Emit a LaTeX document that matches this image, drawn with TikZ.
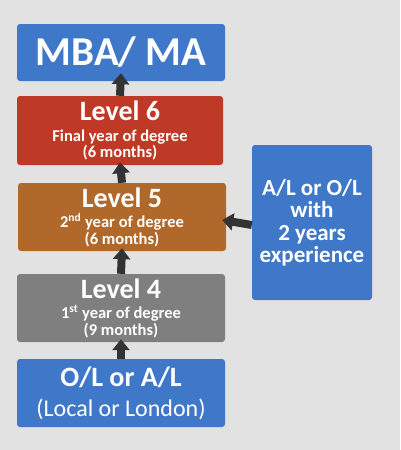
\documentclass[tikz,border=0pt]{standalone}
\usepackage{fontspec}
\setmainfont{Carlito}
\usetikzlibrary{arrows.meta}
\definecolor{bg}{HTML}{E2E2E2}
\definecolor{cblue}{HTML}{3F78C8}
\definecolor{cred}{HTML}{BF3A26}
\definecolor{corange}{HTML}{B0692A}
\definecolor{cgray}{HTML}{7F7F7F}
\definecolor{carrow}{HTML}{333333}
\tikzset{
  box/.style={rounded corners=3pt, text=white, align=center, inner sep=0pt},
  levelbox/.style={box, font=\bfseries\fontsize{16.5}{16.5}\selectfont},
  blockarrow/.style={draw=carrow, line width=8pt, -{Triangle[width=17pt,length=11pt]}, carrow},
}
\newcommand{\lvtitle}[1]{{\fontsize{28}{28}\selectfont #1}}
\begin{document}
\begin{tikzpicture}[x=1pt,y=-1pt]
\fill[bg] (0,0) rectangle (400,450);
\useasboundingbox (0,0) rectangle (400,450);
\node[box, fill=cblue, minimum width=208pt, minimum height=57pt, font=\bfseries\fontsize{41}{44}\selectfont] (mba) at (121,52.5)
  {MBA/ MA};
\node[levelbox, fill=cred, minimum width=206pt, minimum height=69pt] (l6) at (120,130.5)
  {\lvtitle{Level 6}\\[4pt] Final year of degree\\ (6 months)};
\node[levelbox, fill=corange, minimum width=208pt, minimum height=68pt] (l5) at (122,217)
  {\lvtitle{Level 5}\\[4pt] 2\textsuperscript{nd} year of degree\\ (6 months)};
\node[levelbox, fill=cgray, minimum width=208pt, minimum height=68pt] (l4) at (121,308)
  {\lvtitle{Level 4}\\[4pt] 1\textsuperscript{st} year of degree\\ (9 months)};
\node[box, fill=cblue, minimum width=208pt, minimum height=68pt, font=\fontsize{24}{24}\selectfont] (ol) at (121,393)
  {{\bfseries\fontsize{28}{28}\selectfont O/L or A/L}\\[6pt] (Local or London)};
\node[box, fill=cblue, minimum width=120pt, minimum height=155pt, font=\bfseries\fontsize{23}{22.5}\selectfont] (r) at (312,222.5)
  {A/L or O/L\\ with\\ 2 years\\ experience};
\draw[blockarrow] (l6.north) -- ([yshift=8pt]mba.south);
\draw[blockarrow] (l5.north) -- ([yshift=3pt]l6.south);
\draw[blockarrow] (l4.north) -- ([yshift=3pt]l5.south);
\draw[blockarrow] (ol.north) -- ([yshift=3pt]l4.south);
\draw[blockarrow] ([yshift=-2.5pt]r.west) -- ([xshift=-4pt,yshift=-3pt]l5.east);
\end{tikzpicture}
\end{document}
